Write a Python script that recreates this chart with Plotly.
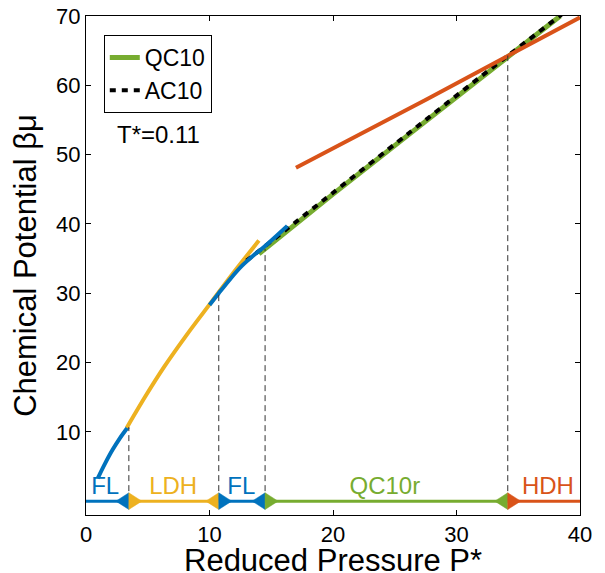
import plotly.graph_objects as go

FONT = "Liberation Sans, Arial, sans-serif"

# colours (MATLAB defaults)
C_BLUE = "#0072BD"
C_ORANGE = "#D95319"
C_YELLOW = "#EDB120"
C_GREEN = "#77AC30"

# ---- data ----
fl_low_p = [0.95, 1.55, 2.15, 2.75, 3.4]
fl_low_mu = [3.3, 5.45, 7.4, 9.1, 10.7]

ldh_p = [3.3, 4.8, 6.3, 8.2, 10.1, 12.0, 14.0]
ldh_mu = [10.6, 15.1, 19.3, 24.1, 28.6, 33.1, 37.6]

fl_high_p = [10.0, 10.75, 11.7, 12.6, 13.6, 14.5, 16.3]
fl_high_mu = [28.3, 30.0, 32.1, 33.9, 35.5, 36.8, 39.7]

qc10_p = [14.0, 20.0, 26.0, 32.0, 38.4]
qc10_mu = [35.7, 44.3, 52.7, 61.1, 70.0]

ac10_p = [13.0, 20.0, 26.0, 32.0, 38.5]
ac10_mu = [34.7, 44.5, 52.9, 61.3, 70.2]

hdh_p = [17.0, 27.6, 40.0]
hdh_mu = [48.1, 58.0, 69.8]

# phase diagram along the pressure axis
phase_bounds = [0.0, 3.47, 10.75, 14.5, 34.15, 40.0]
phase_names = ["FL", "LDH", "FL", "QC10r", "HDH"]
phase_colors = [C_BLUE, C_YELLOW, C_BLUE, C_GREEN, C_ORANGE]
label_p = [1.55, 7.06, 12.58, 24.2, 37.4]
label_mu = [1.9, 1.9, 1.9, 1.9, 1.9]
# height (mu) at which each transition meets the curves
transition_mu = [10.7, 30.0, 36.4, 64.3]

x_ticks = [0, 10, 20, 30, 40]
y_ticks = [10, 20, 30, 40, 50, 60, 70]

x_title = "Reduced Pressure P*"
y_title = "Chemical Potential βμ"

TRI_W = 1.05   # triangle width in P units
TRI_H = 1.2    # triangle half-height in mu units

fig = go.Figure()

def curve(x, y, color, width, name=None, dash=None, show=False):
    fig.add_trace(go.Scatter(
        x=x, y=y, mode="lines", name=name, showlegend=show,
        line=dict(color=color, width=width, dash=dash, shape="spline",
                  smoothing=0.8),
        hoverinfo="skip"))

curve(fl_low_p, fl_low_mu, C_BLUE, 4)
curve(ldh_p, ldh_mu, C_YELLOW, 4)
curve(qc10_p, qc10_mu, C_GREEN, 5, name="QC10", show=True)
curve(ac10_p, ac10_mu, "black", 4, name="AC10", dash="6px,6px", show=True)
curve(fl_high_p, fl_high_mu, C_BLUE, 4)
curve(hdh_p, hdh_mu, C_ORANGE, 4)

# vertical dashed transition lines
for b, m in zip(phase_bounds[1:-1], transition_mu):
    fig.add_trace(go.Scatter(
        x=[b, b], y=[0, m], mode="lines", showlegend=False,
        line=dict(color="#333333", width=1, dash="6px,4px"),
        hoverinfo="skip"))

# horizontal phase line segments
for i in range(len(phase_names)):
    fig.add_trace(go.Scatter(
        x=[phase_bounds[i], phase_bounds[i + 1]], y=[0, 0], mode="lines",
        showlegend=False, line=dict(color=phase_colors[i], width=3),
        hoverinfo="skip"))

# triangles at each transition
for i, b in enumerate(phase_bounds[1:-1]):
    lc = phase_colors[i]
    rc = phase_colors[i + 1]
    fig.add_trace(go.Scatter(
        x=[b, b, b - TRI_W, b], y=[-TRI_H, TRI_H, 0, -TRI_H],
        mode="lines", fill="toself", fillcolor=lc,
        line=dict(color=lc, width=0.5), showlegend=False, hoverinfo="skip"))
    fig.add_trace(go.Scatter(
        x=[b, b, b + TRI_W, b], y=[-TRI_H, TRI_H, 0, -TRI_H],
        mode="lines", fill="toself", fillcolor=rc,
        line=dict(color=rc, width=0.5), showlegend=False, hoverinfo="skip"))

# phase labels
fig.add_trace(go.Scatter(
    x=label_p, y=label_mu, mode="text", text=phase_names,
    textposition="middle center",
    textfont=dict(family=FONT, size=24, color=phase_colors),
    showlegend=False, hoverinfo="skip", cliponaxis=False))

axis_common = dict(
    showline=True, linecolor="black", linewidth=1, mirror="ticks",
    ticks="inside", ticklen=5, tickwidth=1, tickcolor="black",
    showgrid=False, zeroline=False,
    tickfont=dict(family=FONT, size=22, color="black"),
    automargin=False,
)

fig.update_layout(
    width=605, height=573,
    margin=dict(l=86, r=25, t=16, b=58),
    paper_bgcolor="white", plot_bgcolor="white",
    font=dict(family=FONT, color="black"),
    xaxis=dict(range=[0, 40], tickvals=x_ticks, **axis_common),
    yaxis=dict(range=[-2, 70], tickvals=y_ticks,
               title=dict(text=y_title,
                          font=dict(family=FONT, size=31, color="black"),
                          standoff=10),
               **axis_common),
    legend=dict(x=0.036, y=0.962, xanchor="left", yanchor="top",
                bordercolor="black", borderwidth=1, bgcolor="white",
                font=dict(family=FONT, size=23, color="black"),
                tracegroupgap=0),
    annotations=[
        dict(text="T*=0.11", xref="paper", yref="paper", x=0.058, y=0.763,
             xanchor="left", yanchor="middle", showarrow=False,
             font=dict(family=FONT, size=24, color="black")),
        dict(text=x_title, xref="paper", yref="paper", x=0.5, y=-0.091,
             xanchor="center", yanchor="middle", showarrow=False,
             font=dict(family=FONT, size=31, color="black")),
    ],
    showlegend=True,
)

fig.write_html("out.html")
